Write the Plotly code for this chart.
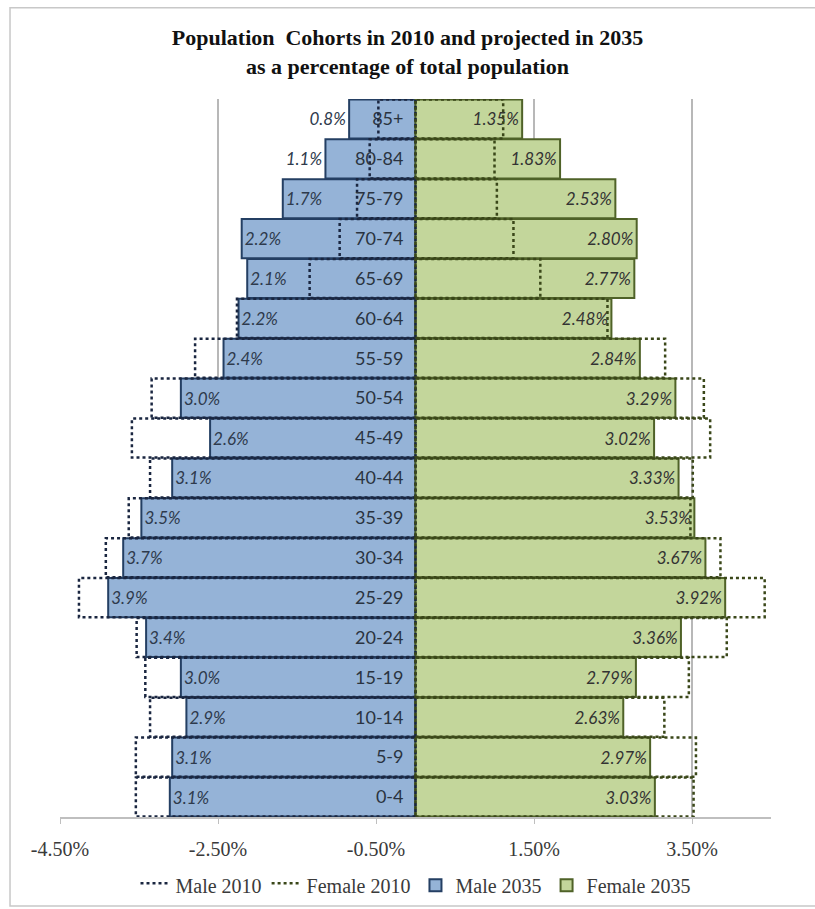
import plotly.graph_objects as go

# ---- data (bottom to top) ----
age_groups = ["0-4", "5-9", "10-14", "15-19", "20-24", "25-29", "30-34", "35-39",
              "40-44", "45-49", "50-54", "55-59", "60-64", "65-69", "70-74",
              "75-79", "80-84", "85+"]
male_2035 = [3.11, 3.08, 2.90, 2.97, 3.41, 3.89, 3.70, 3.47, 3.08, 2.60, 2.97,
             2.43, 2.24, 2.13, 2.20, 1.68, 1.14, 0.84]
female_2035 = [3.03, 2.97, 2.63, 2.79, 3.36, 3.92, 3.67, 3.53, 3.33, 3.02, 3.29,
               2.84, 2.48, 2.77, 2.80, 2.53, 1.83, 1.35]
male_2010 = [3.54, 3.54, 3.36, 3.42, 3.53, 4.26, 3.92, 3.63, 3.36, 3.59, 3.34,
             2.79, 2.26, 1.34, 0.96, 0.74, 0.58, 0.47]
female_2010 = [3.52, 3.55, 3.15, 3.46, 3.94, 4.42, 3.86, 3.48, 3.51, 3.73, 3.65,
               3.16, 2.43, 1.58, 1.24, 1.03, 1.00, 1.11]
x_tick_vals = [-4.5, -2.5, -0.5, 1.5, 3.5]
x_tick_text = ["-4.50%", "-2.50%", "-0.50%", "1.50%", "3.50%"]

# ---- styles ----
BAR_W = 0.98
male_label_pos = ["inside"] * 16 + ["outside", "outside"]
SERIF = "Liberation Serif, Times New Roman, serif"
SANS = "Lato, Open Sans, sans-serif"

idx = list(range(len(age_groups)))


def outline(vals, sign):
    xs, ys = [], []
    h = BAR_W / 2
    for i, v in zip(idx, vals):
        x = sign * v
        xs += [0, x, x, 0, 0, None]
        ys += [i - h, i - h, i + h, i + h, i - h, None]
    return xs, ys


fig = go.Figure()

fig.add_trace(go.Bar(
    name="Male 2035", orientation="h", y=idx, x=[-v for v in male_2035],
    width=BAR_W, legendrank=3,
    marker=dict(color="#95B3D7", line=dict(color="#243F63", width=2)),
    text=[f"{v:.1f}%" for v in male_2035], textposition=male_label_pos,
    insidetextanchor="end",
    textfont=dict(family=SANS, size=17, color="#2E3A4C", style="italic"),
    cliponaxis=False,
))
fig.add_trace(go.Bar(
    name="Female 2035", orientation="h", y=idx, x=female_2035,
    width=BAR_W, legendrank=4,
    marker=dict(color="#C3D69B", line=dict(color="#4F6228", width=2)),
    text=[f"{v:.2f}%" for v in female_2035], textposition="inside",
    insidetextanchor="end",
    textfont=dict(family=SANS, size=17, color="#333333", style="italic"),
    cliponaxis=False,
))

mx, my = outline(male_2010, -1)
fig.add_trace(go.Scatter(
    name="Male 2010", x=mx, y=my, mode="lines", fill="toself",
    fillcolor="rgba(0,0,0,0)", legendrank=1,
    line=dict(color="#1A2640", width=2.5, dash="dot"), hoverinfo="skip",
))
fx, fy = outline(female_2010, 1)
fig.add_trace(go.Scatter(
    name="Female 2010", x=fx, y=fy, mode="lines", fill="toself",
    fillcolor="rgba(0,0,0,0)", legendrank=2,
    line=dict(color="#3A4719", width=2.5, dash="dot"), hoverinfo="skip",
))

# chart border (paper coords relative to plot area)
fig.add_shape(type="rect", xref="paper", yref="paper",
              x0=-0.0703, x1=1.08, y0=-0.124, y1=1.127,
              line=dict(color="#C8C8C8", width=1.5), layer="below")

fig.update_layout(
    width=815, height=909,
    margin=dict(l=60, r=44, t=99, b=92, autoexpand=False),
    paper_bgcolor="white", plot_bgcolor="white",
    barmode="overlay",
    title=dict(
        text="Population  Cohorts in 2010 and projected in 2035<br>as a percentage of total population",
        x=0.5, xanchor="center", y=0.95, yanchor="top",
        font=dict(family=SERIF, size=22, color="#111111", weight="bold"),
    ),
    legend=dict(
        orientation="h", x=0.5, xanchor="center", y=-0.095, yanchor="middle",
        font=dict(family=SERIF, size=20, color="#3A3A3A"),
        itemwidth=30, traceorder="normal",
    ),
    xaxis=dict(
        range=[-4.5, 4.5], tickvals=x_tick_vals, ticktext=x_tick_text,
        showgrid=True, gridcolor="#B8B8B8", gridwidth=1.5, zeroline=False,
        showline=True, linecolor="#BFBFBF", linewidth=1.5,
        ticks="outside", ticklen=5, tickcolor="#BFBFBF",
        ticklabelstandoff=8,
        tickfont=dict(family=SERIF, size=20, color="#3A3A3A"),
    ),
    yaxis=dict(
        range=[-0.5, 17.5], tickvals=idx, ticktext=age_groups,
        anchor="free", position=0.5, side="left",
        showgrid=False, zeroline=False, showline=False, ticks="",
        ticklabelstandoff=12,
        tickfont=dict(family=SANS, size=18, color="#2A3340"),
    ),
    showlegend=True,
)

fig.write_html("out.html")
